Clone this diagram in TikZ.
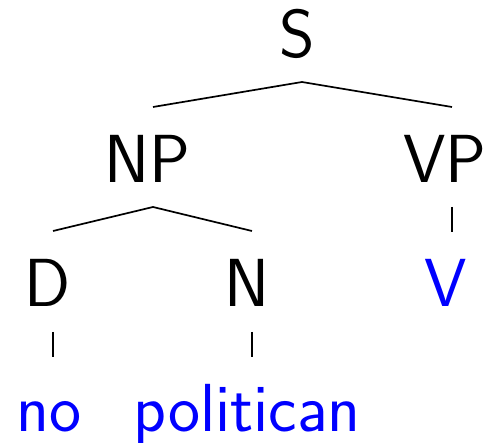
\documentclass[tikz,border=0pt]{standalone}
\usetikzlibrary{positioning}

\begin{document}
\begin{tikzpicture}
                [x=1pt,y=1pt,
                lab/.style={inner sep=0pt,anchor=base,font=\fontsize{68}{72}\selectfont\sffamily},
                word/.style={lab,text=blue},
                br/.style={line width=1.7pt}]
                \useasboundingbox (0,0) rectangle (483,443);
                \node[lab] (S) at (297,385) {S};
                \node[lab] (NP) at (147,260) {NP};
                \node[lab] (VP) at (445,260) {VP};
                \node[lab] (D) at (48,136) {D};
                \node[lab] (N) at (247,136) {N};
                \node[word] (V) at (446,136) {V};
                \node[word] (no) at (49,11) {no};
                \node[word] (pol) at (247,11) {politican};
                % branches
                \draw[br] ([shift={(6pt,76pt)}]NP.base) -- ([shift={(5pt,-24pt)}]S.base)
                          -- ([shift={(7pt,76pt)}]VP.base);
                \draw[br] ([shift={(5pt,76pt)}]D.base) -- ([shift={(6pt,-24pt)}]NP.base)
                          -- ([shift={(5pt,76pt)}]N.base);
                \draw[br] ([shift={(7pt,-24pt)}]VP.base) -- ([shift={(6pt,75pt)}]V.base);
                \draw[br] ([shift={(5pt,-25pt)}]D.base) -- ([shift={(4pt,75pt)}]no.base);
                \draw[br] ([shift={(5pt,-25pt)}]N.base) -- ([shift={(5pt,75pt)}]pol.base);
\end{tikzpicture}
\end{document}
